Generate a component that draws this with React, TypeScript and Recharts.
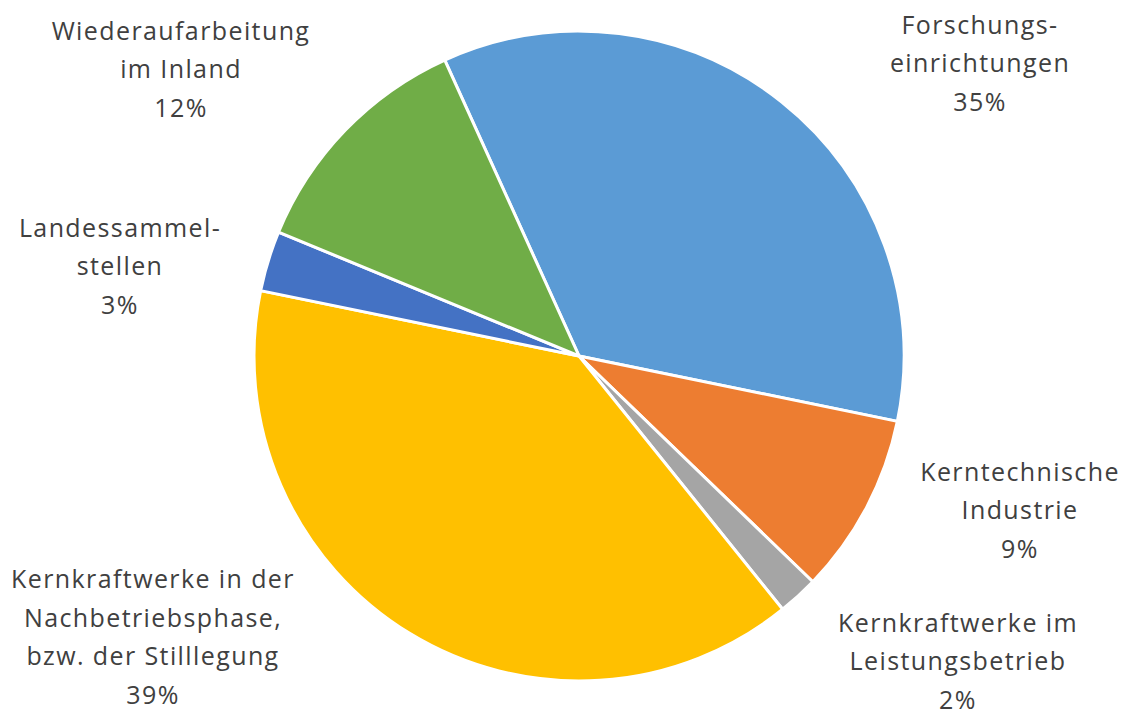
import { PieChart, Pie, Cell } from "recharts";

const names = [
  "Forschungs-\neinrichtungen",
  "Kerntechnische\nIndustrie",
  "Kernkraftwerke im\nLeistungsbetrieb",
  "Kernkraftwerke in der\nNachbetriebsphase,\nbzw. der Stilllegung",
  "Landessammel-\nstellen",
  "Wiederaufarbeitung\nim Inland",
];
const shares = [35, 9, 2, 39, 3, 12];
const colors = ["#5B9BD5", "#ED7D31", "#A5A5A5", "#FFC000", "#4472C4", "#70AD47"];

// label block centres (px), Excel "best fit" placement
const labelPos = [
  [980, 62],
  [1020, 509],
  [958, 660],
  [153, 636],
  [120, 265],
  [181, 68],
];

const data = names.map((name, i) => ({ name, value: shares[i] }));

const LINE = 38.5;

function renderLabel(props: any) {
  const i = props.index;
  const lines = [...names[i].split("\n"), `${shares[i]}%`];
  const [x, y] = labelPos[i];
  const top = y - ((lines.length - 1) * LINE) / 2;
  return (
    <text
      key={`lbl-${i}`}
      x={x}
      y={top}
      textAnchor="middle"
      dominantBaseline="central"
      fill="#404040"
      fontSize={25}
      letterSpacing={1.4}
      fontFamily="'Open Sans', 'Noto Sans', sans-serif"
    >
      {lines.map((l, k) => (
        <tspan key={k} x={x} y={top + k * LINE}>
          {l}
        </tspan>
      ))}
    </text>
  );
}

export default function App() {
  const start = 90 + 24.4;
  return (
    <div style={{ position: "absolute", left: 0, top: 0, background: "#fff" }}>
      <PieChart width={1126} height={710} margin={{ top: 0, right: 0, bottom: 0, left: 0 }}>
        <Pie
          data={data}
          dataKey="value"
          cx={579}
          cy={356}
          outerRadius={325}
          startAngle={start}
          endAngle={start - 360}
          stroke="#fff"
          strokeWidth={3}
          label={renderLabel}
          labelLine={false}
          isAnimationActive={false}
        >
          {data.map((d, i) => (
            <Cell key={d.name} fill={colors[i]} />
          ))}
        </Pie>
      </PieChart>
    </div>
  );
}
